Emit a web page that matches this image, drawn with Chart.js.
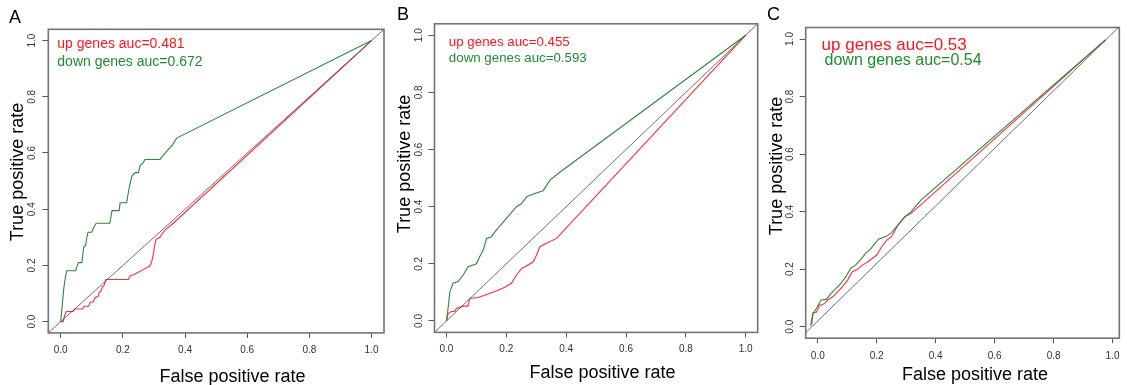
<!DOCTYPE html>
<html><head><meta charset="utf-8">
<script src="https://cdn.jsdelivr.net/npm/chart.js@4.4.0/dist/chart.umd.min.js"></script>
<style>
html,body{margin:0;padding:0;background:#fff;overflow:hidden;width:1127px;height:385px;}
.panel{position:absolute;top:0;height:385px;}
.letter{position:absolute;font-family:"Liberation Sans",Arial,sans-serif;font-size:18px;line-height:18px;color:#000;}
</style></head><body>
<div class="panel" style="left:0;width:390px"><canvas id="cA"></canvas></div>
<div class="panel" style="left:388px;width:374px"><canvas id="cB"></canvas></div>
<div class="panel" style="left:762px;width:365px"><canvas id="cC"></canvas></div>
<div class="letter" style="left:9px;top:8px">A</div>
<div class="letter" style="left:397px;top:5px">B</div>
<div class="letter" style="left:767px;top:5px">C</div>
<script>
// ---- tick labels ----
const tickValues = [0, 0.2, 0.4, 0.6, 0.8, 1.0];
const tickLabels = ['0.0', '0.2', '0.4', '0.6', '0.8', '1.0'];
const xTitle = 'False positive rate';
const yTitle = 'True positive rate';

// ---- Panel A ----
const aDownFpr = [0,0.004,0.01,0.014,0.019,0.048,0.052,0.057,0.068,0.071,0.074,0.08,0.083,0.088,0.1,0.106,0.114,0.158,0.162,0.165,0.188,0.191,0.212,0.216,0.221,0.226,0.23,0.24,0.25,0.255,0.265,0.271,0.319,0.34,0.36,0.373,1];
const aDownTpr = [0,0.05,0.12,0.15,0.181,0.181,0.196,0.21,0.21,0.24,0.265,0.27,0.295,0.318,0.318,0.335,0.35,0.35,0.375,0.395,0.395,0.423,0.423,0.45,0.48,0.505,0.52,0.53,0.53,0.555,0.565,0.577,0.577,0.605,0.63,0.653,1];
const aUpFpr = [0,0.008,0.012,0.018,0.04,0.045,0.07,0.075,0.09,0.095,0.105,0.11,0.12,0.125,0.13,0.135,0.14,0.145,0.218,0.222,0.244,0.266,0.287,0.293,0.298,0.302,0.307,0.319,0.335,0.362,1];
const aUpTpr = [0,0,0.02,0.036,0.036,0.045,0.045,0.055,0.055,0.07,0.07,0.085,0.09,0.105,0.11,0.125,0.13,0.15,0.15,0.162,0.172,0.186,0.198,0.215,0.24,0.27,0.293,0.3,0.326,0.35,1];
const aRefX = [-0.04, 1.04];
const aRefY = [-0.04, 1.04];
const aLabels = ['up genes auc=0.481', 'down genes auc=0.672'];

// ---- Panel B ----
const bDownFpr = [0,0.006,0.011,0.022,0.039,0.056,0.072,0.089,0.1,0.111,0.123,0.134,0.15,0.162,0.195,0.234,0.251,0.268,0.29,0.323,0.346,0.373,1];
const bDownTpr = [0,0.05,0.1,0.132,0.138,0.161,0.19,0.196,0.2,0.225,0.248,0.289,0.295,0.312,0.353,0.4,0.411,0.435,0.444,0.456,0.493,0.516,1];
const bUpFpr = [0,0.006,0.017,0.028,0.033,0.056,0.072,0.078,0.106,0.134,0.162,0.195,0.217,0.234,0.251,0.273,0.29,0.301,0.312,0.334,0.368,1];
const bUpTpr = [0,0.027,0.033,0.033,0.044,0.052,0.052,0.079,0.082,0.093,0.103,0.118,0.132,0.161,0.184,0.196,0.207,0.231,0.26,0.272,0.289,1];
const bRefX = [-0.04, 1.04];
const bRefY = [-0.04, 1.04];
const bLabels = ['up genes auc=0.455', 'down genes auc=0.593'];

// ---- Panel C ----
const cDownFpr = [-0.021,-0.016,-0.004,0.004,0.012,0.029,0.045,0.062,0.079,0.095,0.112,0.128,0.145,0.162,0.178,0.206,0.234,0.25,0.272,0.295,0.317,0.35,0.976];
const cDownTpr = [0.006,0.046,0.064,0.08,0.093,0.095,0.116,0.133,0.151,0.174,0.203,0.214,0.232,0.255,0.269,0.304,0.315,0.327,0.353,0.382,0.4,0.44,0.997];
const cUpFpr = [-0.024,-0.02,-0.016,-0.005,0,0.005,0.012,0.023,0.034,0.051,0.068,0.084,0.101,0.117,0.134,0.151,0.162,0.178,0.2,0.217,0.234,0.25,0.272,0.295,0.317,0.976];
const cUpTpr = [0.004,0.03,0.049,0.05,0.06,0.075,0.075,0.081,0.093,0.104,0.122,0.139,0.162,0.191,0.199,0.214,0.22,0.232,0.249,0.278,0.301,0.313,0.353,0.382,0.394,0.997];
const cRefX = [-0.06, 1.02];
const cRefY = [-0.04, 1.04];
const cLabels = ['up genes auc=0.53', 'down genes auc=0.54'];

const UP_COLOR = 'rgb(255,45,55)';
const DOWN_COLOR = 'rgb(45,135,60)';
const UP_TEXT = 'rgb(255,20,30)';
const DOWN_TEXT = 'rgb(30,140,50)';
const FONT = '"Liberation Sans", Arial, sans-serif';

function pts(xs, ys) { return xs.map((x, i) => ({x: x, y: ys[i]})); }

const panelPlugin = {
  id: 'panelDecor',
  afterDatasetsDraw(chart) {
    const o = chart.options.plugins.panelDecor;
    const ctx = chart.ctx, a = chart.chartArea;
    const xs = chart.scales.x, ys = chart.scales.y;
    ctx.save();
    // box
    ctx.strokeStyle = '#737373';
    ctx.lineWidth = 1.6;
    ctx.strokeRect(a.left, a.top, a.right - a.left, a.bottom - a.top);
    // annotations
    o.notes.forEach(n => {
      ctx.font = n.size + 'px ' + FONT;
      ctx.fillStyle = n.color;
      ctx.textAlign = 'left';
      ctx.textBaseline = 'alphabetic';
      ctx.fillText(n.text, xs.getPixelForValue(n.x), ys.getPixelForValue(n.y));
    });
    // axis titles
    ctx.fillStyle = '#000';
    ctx.font = '18px ' + FONT;
    ctx.textAlign = 'center';
    ctx.textBaseline = 'alphabetic';
    ctx.fillText(xTitle, o.xTitle[0], o.xTitle[1]);
    ctx.translate(o.yTitle[0], o.yTitle[1]);
    ctx.rotate(-Math.PI / 2);
    ctx.fillText(yTitle, 0, 0);
    ctx.restore();
  }
};

function makePanel(id, cfg) {
  const tickFont = {family: FONT, size: 10};
  new Chart(document.getElementById(id), {
    type: 'line',
    data: {
      datasets: [
        {data: pts(cfg.refX, cfg.refY), borderColor: '#4a4a4a', borderWidth: 0.8},
        {data: pts(cfg.downX, cfg.downY), borderColor: DOWN_COLOR, borderWidth: 1.1},
        {data: pts(cfg.upX, cfg.upY), borderColor: UP_COLOR, borderWidth: 1.1}
      ]
    },
    options: {
      responsive: true,
      maintainAspectRatio: false,
      animation: false,
      devicePixelRatio: 1,
      events: [],
      elements: {point: {radius: 0}, line: {tension: 0}},
      layout: {padding: cfg.pad},
      plugins: {
        legend: {display: false},
        tooltip: {enabled: false},
        panelDecor: {notes: cfg.notes, xTitle: cfg.xTitle, yTitle: cfg.yTitle}
      },
      scales: {
        x: {
          type: 'linear', min: cfg.xMin, max: cfg.xMax,
          afterBuildTicks: s => { s.ticks = tickValues.map(v => ({value: v})); },
          afterFit: s => { s.height = cfg.xH; },
          ticks: {callback: (v, i) => tickLabels[i], font: tickFont, color: '#333',
                  padding: cfg.xPad, maxRotation: 0, minRotation: 0, autoSkip: false},
          grid: {drawOnChartArea: false, drawTicks: true, tickLength: 5, color: '#555', lineWidth: 1},
          border: {display: false}
        },
        y: {
          type: 'linear', min: -0.04, max: 1.04,
          afterBuildTicks: s => { s.ticks = tickValues.map(v => ({value: v})); },
          afterFit: s => { s.width = cfg.yW; },
          ticks: {callback: (v, i) => tickLabels[i], font: tickFont, color: '#333',
                  padding: cfg.yPad, minRotation: 90, maxRotation: 90, crossAlign: 'center', autoSkip: false},
          grid: {drawOnChartArea: false, drawTicks: true, tickLength: 6, color: '#555', lineWidth: 1},
          border: {display: false}
        }
      }
    },
    plugins: [panelPlugin]
  });
}

makePanel('cA', {
  refX: aRefX, refY: aRefY, downX: aDownFpr, downY: aDownTpr, upX: aUpFpr, upY: aUpTpr,
  xMin: -0.04, xMax: 1.04,
  pad: {left: 0.3, right: 6, top: 29.3, bottom: 0}, xH: 52.1, yW: 48, xPad: 6, yPad: 3.5,
  notes: [
    {text: aLabels[0], color: UP_TEXT, size: 14, x: -0.011, y: 0.974},
    {text: aLabels[1], color: DOWN_TEXT, size: 14, x: -0.011, y: 0.910}
  ],
  xTitle: [232.5, 382], yTitle: [23.3, 172]
});

makePanel('cB', {
  refX: bRefX, refY: bRefY, downX: bDownFpr, downY: bDownTpr, upX: bUpFpr, upY: bUpTpr,
  xMin: -0.04, xMax: 1.04,
  pad: {left: 0.5, right: 4.3, top: 23.8, bottom: 0}, xH: 52.6, yW: 46, xPad: 6, yPad: 2.5,
  notes: [
    {text: bLabels[0], color: UP_TEXT, size: 13.3, x: 0.008, y: 0.963},
    {text: bLabels[1], color: DOWN_TEXT, size: 13.3, x: 0.008, y: 0.907}
  ],
  xTitle: [602.5 - 388, 377.5], yTitle: [410 - 388, 164]
});

makePanel('cC', {
  refX: cRefX, refY: cRefY, downX: cDownFpr, downY: cDownTpr, upX: cUpFpr, upY: cUpTpr,
  xMin: -0.041, xMax: 1.023,
  pad: {left: 0.7, right: 1, top: 27.5, bottom: 0}, xH: 46.8, yW: 43, xPad: 7.5, yPad: 2,
  notes: [
    {text: cLabels[0], color: UP_TEXT, size: 17, x: 0.013, y: 0.963},
    {text: cLabels[1], color: DOWN_TEXT, size: 16, x: 0.023, y: 0.910}
  ],
  xTitle: [975 - 762, 380], yTitle: [781.7 - 762, 166]
});
</script>
</body></html>
